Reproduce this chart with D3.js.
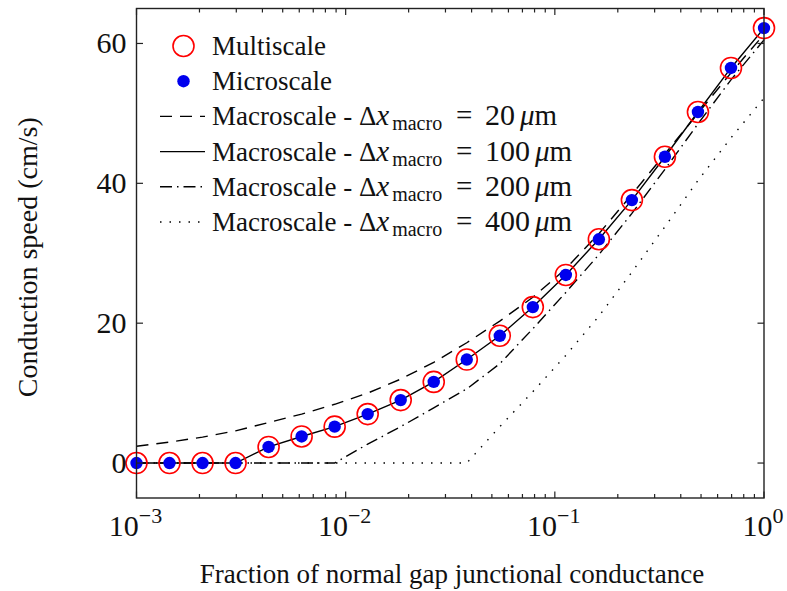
<!DOCTYPE html>
<html>
<head>
<meta charset="utf-8">
<script src="https://cdn.jsdelivr.net/npm/d3@7"></script>
<style>
  html, body { margin: 0; padding: 0; background: #fff; }
  svg text { font-family: "Liberation Serif", "Times New Roman", serif; fill: #111; }
</style>
</head>
<body>
<svg id="chart" width="787" height="591"></svg>
<script>
// ---- data ----
const conductance = [0.001, 0.001438, 0.002069, 0.002976, 0.004281, 0.006158, 0.008859, 0.012743,
  0.01833, 0.026367, 0.037927, 0.054556, 0.078476, 0.112884, 0.162378, 0.233572, 0.335982,
  0.483293, 0.695193, 1.0];
const multiscale = [0, 0, 0, 0, 2.3, 3.8, 5.2, 7.0, 9.0, 11.6, 14.8, 18.2, 22.3, 26.9, 32.0, 37.6, 43.8, 50.2, 56.5, 62.2];
const microscale = [0, 0, 0, 0, 2.3, 3.8, 5.2, 7.0, 9.0, 11.6, 14.8, 18.2, 22.3, 26.9, 32.0, 37.6, 43.8, 50.2, 56.5, 62.2];
const macro20  = [2.4, 3.0, 3.7, 4.6, 5.8, 7.0, 8.4, 10.0, 12.0, 14.4, 17.2, 20.3, 23.7, 27.8, 32.8, 38.4, 44.2, 50.0, 55.8, 61.3];
const macro100 = [0, 0, 0, 0, 2.3, 3.8, 5.2, 7.0, 9.0, 11.6, 14.8, 18.2, 22.3, 26.9, 32.0, 37.6, 43.8, 50.2, 56.5, 62.2];
const macro200 = [0, 0, 0, 0, 0, 0, 0, 2.7, 5.2, 7.9, 10.6, 14.2, 19.2, 24.4, 29.8, 35.7, 42.0, 48.5, 54.8, 60.5];
const macro400 = [0, 0, 0, 0, 0, 0, 0, 0, 0, 0, 0, 5.2, 10.2, 15.4, 21.0, 27.3, 33.8, 40.4, 46.5, 52.2];
const yTicks = [0, 20, 40, 60];
const xTickExps = [-3, -2, -1, 0];
const legendLabels = ["20", "100", "200", "400"];

// ---- layout ----
const svg = d3.select("#chart");
const L = 136.5, R = 764, T = 8.5, B = 498;
const x = d3.scaleLog().domain([1e-3, 1]).range([L, R]);
const y = d3.scaleLinear().domain([-5, 65]).range([B, T]);
const axisColor = "#222";

// ---- lines ----
const line = d3.line().x((d, i) => x(conductance[i])).y(d => y(d));
const series = [
  { v: macro20, dash: "12,8" },
  { v: macro100, dash: null },
  { v: macro200, dash: "12,5,1.5,5" },
  { v: macro400, dash: "1.5,8" }
];
series.forEach(s => {
  svg.append("path").datum(s.v).attr("d", line)
    .attr("fill", "none").attr("stroke", "#000").attr("stroke-width", 1.4)
    .attr("stroke-dasharray", s.dash);
});

// ---- markers ----
svg.append("g").selectAll("circle").data(multiscale).join("circle")
  .attr("cx", (d, i) => x(conductance[i])).attr("cy", d => y(d)).attr("r", 10.5)
  .attr("fill", "none").attr("stroke", "#f00").attr("stroke-width", 1.6);
svg.append("g").selectAll("circle").data(microscale).join("circle")
  .attr("cx", (d, i) => x(conductance[i])).attr("cy", d => y(d)).attr("r", 6.2)
  .attr("fill", "#0000ee");

// ---- axes box ----
svg.append("rect").attr("x", L).attr("y", T).attr("width", R - L).attr("height", B - T)
  .attr("fill", "none").attr("stroke", axisColor).attr("stroke-width", 1.4);

const majors = xTickExps.map(e => Math.pow(10, e));
const minors = [];
[-3, -2, -1].forEach(e => { for (let m = 2; m <= 9; m++) minors.push(m * Math.pow(10, e)); });
const tg = svg.append("g").attr("stroke", axisColor).attr("stroke-width", 1.2);
majors.forEach(v => {
  tg.append("line").attr("x1", x(v)).attr("x2", x(v)).attr("y1", B).attr("y2", B - 6.5);
  tg.append("line").attr("x1", x(v)).attr("x2", x(v)).attr("y1", T).attr("y2", T + 6.5);
});
minors.forEach(v => {
  tg.append("line").attr("x1", x(v)).attr("x2", x(v)).attr("y1", B).attr("y2", B - 4);
  tg.append("line").attr("x1", x(v)).attr("x2", x(v)).attr("y1", T).attr("y2", T + 4);
});
yTicks.forEach(v => {
  tg.append("line").attr("x1", L).attr("x2", L + 6.5).attr("y1", y(v)).attr("y2", y(v));
  tg.append("line").attr("x1", R).attr("x2", R - 6.5).attr("y1", y(v)).attr("y2", y(v));
});

// y tick labels
svg.append("g").selectAll("text").data(yTicks).join("text")
  .attr("x", L - 10).attr("y", d => y(d) + 10).attr("text-anchor", "end")
  .attr("font-size", 30).text(d => d);

// x tick labels 10^e
xTickExps.forEach(e => {
  const t = svg.append("text").attr("x", x(Math.pow(10, e)) - 1).attr("y", 536)
    .attr("text-anchor", "middle").attr("font-size", 30);
  t.append("tspan").text("10");
  t.append("tspan").attr("dy", -13).attr("font-size", 22).text(e === 0 ? "0" : "\u2212" + Math.abs(e));
});

// axis titles
svg.append("text").attr("x", 452).attr("y", 583).attr("text-anchor", "middle")
  .attr("font-size", 27).text("Fraction of normal gap junctional conductance");
svg.append("text").attr("transform", `translate(37,${(T + B) / 2 + 4}) rotate(-90)`)
  .attr("text-anchor", "middle").attr("font-size", 28).text("Conduction speed (cm/s)");

// ---- legend ----
const lgX0 = 160, lgX1 = 205, lgText = 212, lgY0 = 46, lgDy = 35.2;
const lg = svg.append("g");
lg.append("circle").attr("cx", 183.5).attr("cy", lgY0).attr("r", 10.5)
  .attr("fill", "none").attr("stroke", "#f00").attr("stroke-width", 1.6);
lg.append("circle").attr("cx", 183.5).attr("cy", lgY0 + lgDy).attr("r", 6.2).attr("fill", "#0000ee");
const entryText = (row, build) => {
  const t = lg.append("text").attr("x", lgText).attr("y", lgY0 + row * lgDy + 9).attr("font-size", 27);
  build(t);
};
entryText(0, t => t.text("Multiscale"));
entryText(1, t => t.text("Microscale"));
series.forEach((s, i) => {
  const row = i + 2;
  const yy = lgY0 + row * lgDy;
  lg.append("line").attr("x1", lgX0).attr("x2", lgX1).attr("y1", yy).attr("y2", yy)
    .attr("stroke", "#000").attr("stroke-width", 1.4).attr("stroke-dasharray", s.dash);
  entryText(row, t => {
    t.append("tspan").text("Macroscale - \u0394");
    t.append("tspan").attr("font-style", "italic").attr("font-size", 29).text("x");
    t.append("tspan").attr("font-size", 20).attr("dx", 3).attr("dy", 5).text("macro");
    t.append("tspan").attr("x", lgText + 244).attr("dy", -5).attr("font-size", 29).text("=");
    t.append("tspan").attr("x", lgText + 273).attr("font-size", 30).text(legendLabels[i]);
    t.append("tspan").attr("dx", 5).attr("font-size", 29).attr("font-style", "italic").text("\u03bc");
    t.append("tspan").attr("font-size", 29).text("m");
  });
});
</script>
</body>
</html>
